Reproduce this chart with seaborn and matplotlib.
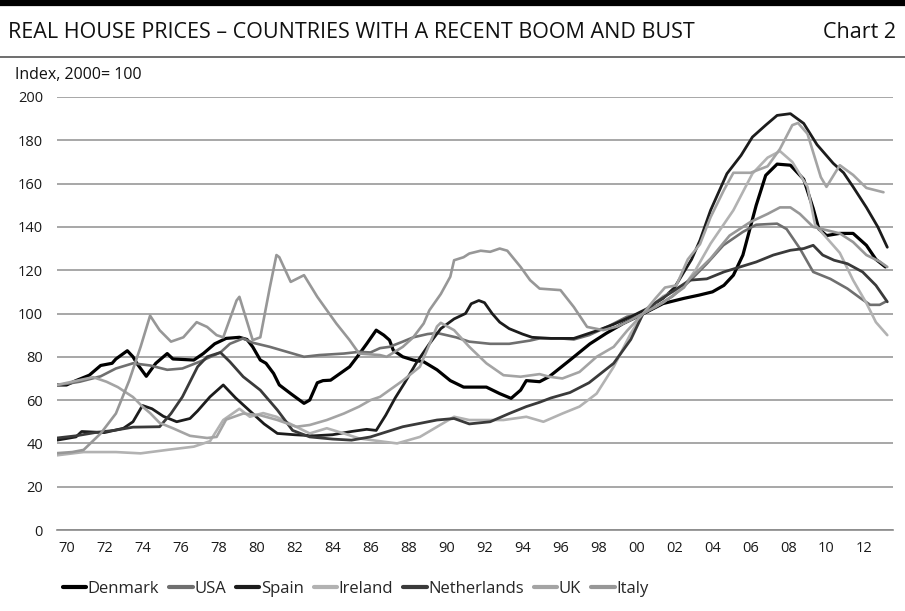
import pandas as pd
import matplotlib
matplotlib.use("Agg")
import matplotlib.pyplot as plt
from matplotlib.lines import Line2D
import seaborn as sns

# ---- data: (year, index 2000=100) ----
denmark = [(1970.0, 67), (1970.5, 67), (1971.0, 69), (1971.7, 71.5), (1972.3, 76), (1972.9, 77),
           (1973.1, 79), (1973.7, 82.8), (1974.0, 80), (1974.2, 77), (1974.7, 71), (1975.2, 77),
           (1975.8, 81.5), (1976.1, 79), (1977.2, 78.5), (1977.7, 81.5), (1978.3, 86), (1978.9, 88.5),
           (1979.6, 89), (1980.0, 88), (1980.3, 84.6), (1980.7, 78.5), (1981.0, 77), (1981.4, 72.3),
           (1981.7, 67), (1982.3, 63), (1983.0, 58.5), (1983.3, 60), (1983.7, 68), (1984.0, 69),
           (1984.4, 69.2), (1984.9, 72.3), (1985.4, 75.4), (1985.8, 80), (1986.3, 86), (1986.8, 92.3),
           (1987.2, 90), (1987.5, 87.7), (1987.7, 83), (1988.2, 80), (1988.75, 78.5), (1989.3, 77.7),
           (1990.0, 74), (1990.7, 69), (1991.4, 66), (1992.6, 66), (1993.3, 63), (1993.9, 60.8),
           (1994.4, 64.6), (1994.7, 69), (1995.4, 68.5), (1995.9, 70.8), (1997.0, 78.5), (1998.05, 86),
           (1998.9, 90.8), (1999.8, 95.4), (2000.7, 99.2), (2001.9, 104.6), (2003.0, 107), (2003.8, 108.5),
           (2004.5, 110), (2005.1, 113), (2005.6, 117.7), (2006.1, 127), (2006.8, 150), (2007.3, 163.8),
           (2007.9, 169), (2008.6, 168.5), (2009.3, 162), (2009.8, 148.5), (2010.1, 139), (2010.5, 136),
           (2011.2, 137), (2011.9, 137), (2012.6, 131.5), (2013.1, 125), (2013.6, 121.5)]

usa = [(1970.0, 67), (1970.5, 67.5), (1971.2, 68.5), (1972.3, 71), (1973.1, 74.6), (1974.0, 77),
       (1974.9, 76), (1975.8, 74), (1976.6, 74.6), (1977.5, 77.7), (1978.6, 82), (1979.1, 86),
       (1979.8, 88.5), (1980.3, 86.5), (1981.2, 84.6), (1982.1, 82.3), (1983.0, 80), (1983.8, 80.8),
       (1985.1, 81.5), (1985.9, 82.3), (1986.5, 82), (1987.0, 84), (1987.5, 84.6), (1988.2, 87),
       (1988.75, 89), (1989.5, 90.5), (1990.0, 91), (1991.0, 89), (1991.7, 87), (1992.8, 86),
       (1993.8, 86), (1994.9, 87.5), (1995.4, 88.5), (1996.5, 88.5), (1997.2, 88), (1998.0, 90),
       (1999.0, 94), (2000.0, 98.5), (2000.8, 100), (2001.5, 103), (2002.4, 108), (2003.3, 115),
       (2004.2, 123), (2005.07, 131.5), (2006.1, 137.7), (2006.8, 141), (2007.9, 141.5), (2008.4, 139),
       (2009.1, 130), (2009.8, 119.2), (2010.7, 116), (2011.6, 111.5), (2012.3, 107), (2012.8, 104),
       (2013.3, 104), (2013.6, 105.4)]

spain = [(1970.0, 41.5), (1971.0, 43), (1971.3, 45.5), (1972.5, 45), (1973.5, 47), (1974.0, 50),
         (1974.5, 57.5), (1975.0, 56), (1975.6, 52.5), (1976.3, 50), (1977.0, 51.5), (1977.4, 55),
         (1978.05, 61.5), (1978.75, 67), (1979.4, 61), (1980.15, 55), (1980.9, 49), (1981.6, 44.6),
         (1982.5, 44), (1983.5, 43.5), (1984.5, 44), (1985.5, 45.5), (1986.3, 46.5), (1986.8, 46),
         (1987.3, 53), (1987.8, 61), (1988.3, 68), (1988.9, 77), (1989.6, 86), (1990.2, 93),
         (1990.9, 97.5), (1991.5, 100), (1991.8, 104.5), (1992.2, 106), (1992.5, 105), (1992.9, 100),
         (1993.3, 96), (1993.8, 93), (1994.5, 90.5), (1995.0, 89), (1996.0, 88.5), (1997.2, 88.5),
         (1998.4, 92), (1999.3, 95), (2000.2, 98.5), (2001.0, 102), (2001.9, 107), (2002.5, 112),
         (2002.95, 118.5), (2003.4, 125), (2003.84, 133.8), (2004.4, 147.7), (2005.26, 164.6),
         (2006.0, 173), (2006.6, 181.5), (2007.3, 187), (2007.9, 191.5), (2008.6, 192.3), (2009.3, 187.8),
         (2010.0, 178), (2010.85, 169.4), (2011.4, 165), (2011.9, 158.5), (2012.6, 149), (2013.2, 140),
         (2013.7, 130.6)]

ireland = [(1970.0, 34.5), (1971.4, 36), (1973.1, 36), (1974.4, 35.4), (1975.8, 37), (1977.2, 38.5),
           (1978.05, 41), (1978.75, 50.8), (1979.6, 56), (1980.15, 52.3), (1980.85, 54), (1981.55, 52.3),
           (1982.4, 48.5), (1983.3, 44.6), (1984.2, 47), (1985.1, 44.6), (1985.9, 42.3), (1987.0, 41),
           (1987.9, 40), (1989.1, 43), (1990.9, 52.3), (1991.7, 50.8), (1993.5, 50.8), (1994.7, 52.3),
           (1995.6, 50), (1996.6, 53.8), (1997.5, 57), (1998.4, 63), (1999.3, 75.4), (2000.2, 90.8),
           (2000.85, 100), (2001.9, 108), (2002.95, 112), (2003.6, 120), (2004.4, 132.3), (2005.6, 147.7),
           (2006.6, 164.6), (2007.4, 172), (2008.05, 175), (2008.7, 170), (2009.5, 158.5), (2009.9, 141),
           (2010.5, 135), (2011.2, 128), (2011.9, 115.4), (2012.6, 104.8), (2013.1, 96), (2013.7, 90)]

netherlands = [(1970.0, 42.5), (1971.0, 43.5), (1972.0, 45), (1973.0, 46), (1974.0, 47.5), (1975.4, 47.7),
               (1976.0, 53.8), (1976.6, 61.5), (1977.4, 75.4), (1977.9, 80), (1978.6, 82), (1979.1, 77.7),
               (1979.8, 70.8), (1980.7, 64.6), (1981.6, 55.4), (1982.4, 46), (1983.3, 43), (1984.5, 42),
               (1985.5, 41.5), (1986.5, 43), (1988.2, 47.7), (1990.0, 50.8), (1990.9, 51.5), (1991.7, 49),
               (1992.8, 50), (1993.8, 53.8), (1994.7, 57), (1995.4, 59), (1996.0, 61), (1997.0, 63.5),
               (1998.0, 68), (1999.3, 77), (2000.2, 88), (2000.85, 100), (2001.5, 105), (2002.2, 109),
               (2003.3, 115.4), (2004.2, 116), (2005.1, 119.2), (2005.95, 121.5), (2006.8, 123.8),
               (2007.7, 127), (2008.6, 129.2), (2009.3, 130), (2009.8, 131.5), (2010.3, 127), (2010.9, 124.6),
               (2011.6, 123), (2012.4, 119.2), (2013.1, 113), (2013.7, 105.4)]

uk = [(1970.0, 67), (1970.8, 68.5), (1971.9, 70.6), (1972.6, 68.5), (1973.2, 66), (1974.0, 61.4),
      (1974.5, 57), (1974.9, 54), (1975.4, 49.5), (1976.1, 47), (1977.0, 43.5), (1977.9, 42.5),
      (1978.4, 43), (1978.9, 51), (1979.8, 53.8), (1980.7, 53), (1981.6, 50.8), (1982.6, 47.7),
      (1983.3, 48.5), (1984.2, 50.8), (1985.1, 53.8), (1985.9, 57), (1986.5, 60), (1987.0, 61.5),
      (1988.2, 69), (1989.1, 75.4), (1990.0, 94), (1990.2, 95.7), (1990.9, 92.3), (1991.7, 84.6),
      (1992.6, 77), (1993.5, 71.5), (1994.4, 70.8), (1995.4, 72), (1995.9, 70.8), (1996.6, 70),
      (1997.5, 73), (1998.4, 80), (1999.3, 84.6), (2000.0, 92), (2000.85, 100), (2001.5, 107),
      (2002.0, 112), (2002.6, 113), (2003.2, 125), (2003.84, 132), (2004.4, 144.5), (2005.1, 157),
      (2005.6, 165), (2006.5, 165), (2007.4, 168), (2008.05, 176), (2008.7, 187), (2009.0, 188),
      (2009.5, 183), (2010.2, 163), (2010.5, 158.5), (2011.2, 168.5), (2011.9, 164), (2012.6, 158),
      (2013.5, 156)]

italy = [(1970.0, 35.5), (1970.8, 36), (1971.4, 37), (1972.3, 44.6), (1973.1, 53.8), (1973.8, 69),
         (1974.4, 84.6), (1974.9, 99), (1975.4, 92.3), (1976.0, 87), (1976.65, 89), (1977.35, 96),
         (1977.9, 93.8), (1978.4, 90), (1978.75, 89), (1979.45, 106), (1979.6, 107.7), (1980.3, 87.7),
         (1980.7, 89), (1981.2, 112), (1981.55, 127), (1981.7, 126), (1982.3, 114.6), (1983.0, 117.7),
         (1983.7, 107.7), (1984.7, 95.4), (1985.4, 87.7), (1985.9, 81.5), (1987.0, 80.8), (1987.35, 80),
         (1988.2, 84.6), (1988.75, 89), (1989.3, 95.4), (1989.6, 101.5), (1990.2, 109), (1990.7, 117),
         (1990.9, 124.6), (1991.4, 126), (1991.7, 127.7), (1992.3, 129), (1992.8, 128.5), (1993.3, 130),
         (1993.7, 129), (1994.4, 121.5), (1994.9, 115.4), (1995.4, 111.5), (1996.5, 110.8), (1997.2, 103),
         (1997.9, 93.8), (1998.75, 92.3), (1999.5, 94), (2000.2, 97), (2000.85, 100), (2001.9, 105),
         (2003.0, 112), (2003.3, 116), (2004.4, 125.4), (2005.4, 136), (2006.5, 142.3), (2007.4, 146),
         (2008.05, 149), (2008.6, 149), (2009.1, 146), (2009.8, 140), (2010.5, 138.5), (2011.2, 137),
         (2011.9, 133), (2012.6, 127), (2013.3, 124), (2013.7, 121.5)]

countries = ["Denmark", "USA", "Spain", "Ireland", "Netherlands", "UK", "Italy"]
series = [denmark, usa, spain, ireland, netherlands, uk, italy]
colors = ["#000000", "#6f6f6f", "#1c1c1c", "#b2b2b2", "#3a3a3a", "#a4a4a4", "#979797"]
widths = [2.3, 1.9, 2.0, 1.9, 2.0, 1.9, 1.9]

rows = []
for name, pts in zip(countries, series):
    for yr, v in pts:
        rows.append({"country": name, "year": yr, "value": v})
df = pd.DataFrame(rows)

# ---- plot ----
sns.set_style("white")
plt.rcParams["font.family"] = ["Open Sans", "DejaVu Sans"]

fig = plt.figure(figsize=(9.05, 6.11), dpi=100)
ax = fig.add_axes([57 / 905, 81 / 611, 836 / 905, 433 / 611])

for name, col, lw in zip(countries, colors, widths):
    sns.lineplot(data=df[df["country"] == name], x="year", y="value", color=col,
                 linewidth=lw, sort=False, estimator=None, ax=ax, label=name)

ax.set_xlim(1970, 2014)
ax.set_ylim(0, 200)
ax.set_yticks(range(0, 201, 20))
ax.yaxis.grid(True, color="#a0a0a0", linewidth=1.3)
ax.set_axisbelow(True)
ax.tick_params(axis="y", length=0, pad=10, labelsize=10.5, labelcolor="#1a1a1a")

ax.set_xticks(range(1970, 2015))
ax.set_xticklabels([])
ax.tick_params(axis="x", which="major", length=4, width=1, color="#8a8a8a", direction="out")
ax.set_xticks([y + 0.5 for y in range(1970, 2014, 2)], minor=True)
ax.set_xticklabels([str(y)[2:] for y in range(1970, 2014, 2)], minor=True)
ax.tick_params(axis="x", which="minor", length=0, pad=8, labelsize=10.5, labelcolor="#1a1a1a")
ax.set_xlabel("")
ax.set_ylabel("")

for side in ["top", "right", "left"]:
    ax.spines[side].set_visible(False)
ax.spines["bottom"].set_color("#8a8a8a")
ax.spines["bottom"].set_linewidth(1.2)

# legend at the bottom
ax.get_legend().remove()
handles = [Line2D([0], [0], color=c, lw=3) for c in colors]
fig.legend(handles, countries, loc="center left", bbox_to_anchor=(56 / 905, 22 / 611), ncol=7,
           frameon=False, fontsize=12, handlelength=1.4, handletextpad=0.1, columnspacing=0.6,
           borderaxespad=0)

# header: rules, title, chart number, unit
fig.add_artist(Line2D([0, 1], [1 - 3 / 611, 1 - 3 / 611], color="black", lw=4.5, transform=fig.transFigure))
fig.add_artist(Line2D([0, 1], [1 - 57 / 611, 1 - 57 / 611], color="#555555", lw=1.2, transform=fig.transFigure))
fig.text(8 / 905, 1 - 33 / 611, "REAL HOUSE PRICES – COUNTRIES WITH A RECENT BOOM AND BUST",
         fontsize=15.5, va="center", ha="left", color="#111111")
fig.text(896 / 905, 1 - 33 / 611, "Chart 2", fontsize=15.5, va="center", ha="right", color="#111111")
fig.text(15 / 905, 1 - 75 / 611, "Index, 2000= 100", fontsize=11.5, va="center", ha="left", color="#111111")

fig.savefig("out.png", dpi=100)
